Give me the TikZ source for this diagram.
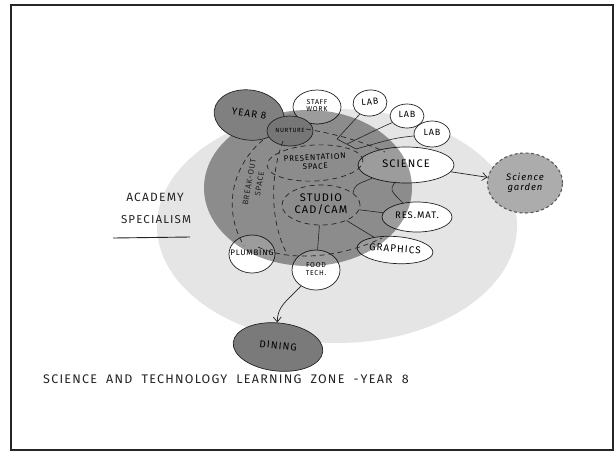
\documentclass[tikz,border=0pt]{standalone}
\usepackage{fontspec}
\setmainfont{Fira Sans}[LetterSpace=10]
\usetikzlibrary{shapes.geometric,arrows.meta}
\definecolor{zonelight}{RGB}{229,229,229}
\definecolor{yeargray}{RGB}{128,128,128}
\definecolor{nurtgray}{RGB}{118,118,118}
\definecolor{gardengray}{RGB}{172,172,172}
\definecolor{dininggray}{RGB}{122,122,122}
\definecolor{inkline}{RGB}{35,35,35}
\newcommand{\lbl}[1]{\makebox[0pt]{\renewcommand{\arraystretch}{0.95}\begin{tabular}{@{}c@{}}#1\end{tabular}}}
\tikzset{
  bub/.style={ellipse, draw=inkline, line width=0.7pt, inner sep=0pt, fill=white},
  darkbub/.style={ellipse, draw=inkline, line width=0.7pt, inner sep=0pt},
  zonebub/.style={ellipse, draw=inkline, line width=0.7pt, inner sep=0pt, dash pattern=on 5pt off 4pt},
  zonedash/.style={draw=inkline, line width=0.7pt, dash pattern=on 5pt off 4pt},
  link/.style={draw=inkline, line width=0.6pt},
  arr/.style={draw=inkline, line width=0.7pt, -{Straight Barb[length=5pt,width=8pt]}},
  plain/.style={inner sep=0pt, text=inkline}
}
\begin{document}
\begin{tikzpicture}[x=1pt,y=-1pt]
\useasboundingbox (0,0) rectangle (615,451);
% frame
\draw[line width=2pt, draw=black!85] (11,5) rectangle (612.5,450);
% light zone
\coordinate (lz) at (337,226);
\fill[zonelight] (lz) ellipse [x radius=180, y radius=117];
% outer bubbles (white inside)
\node[bub, minimum width=48, minimum height=34] (staff) at (317,107) {\fontsize{7}{7.5}\selectfont\lbl{STAFF\\WORK}};
\node[bub, minimum width=34, minimum height=26, rotate=5] (lab1) at (370,103) {\fontsize{9}{9}\selectfont\lbl{LAB}};
\node[bub, minimum width=34, minimum height=24] (lab2) at (407,116) {\fontsize{9}{9}\selectfont\lbl{LAB}};
\node[bub, minimum width=36, minimum height=26] (lab3) at (432,134) {\fontsize{9}{9}\selectfont\lbl{LAB}};
\node[bub, minimum width=96, minimum height=36] (sci) at (406,165) {\fontsize{11}{11}\selectfont\lbl{SCIENCE}};
\node[bub, minimum width=70, minimum height=30] (res) at (417,217) {\fontsize{9.5}{9.5}\selectfont\lbl{RES.MAT.}};
\node[bub, minimum width=76, minimum height=27, rotate=-4] (graph) at (395,250) {\fontsize{10}{10}\selectfont\lbl{GRAPHICS}};
\node[bub, minimum width=46, minimum height=38] (plumb) at (252,254) {\fontsize{8}{8}\selectfont\lbl{PLUMBING}};
\node[bub, minimum width=48, minimum height=40] (food) at (316,270) {\fontsize{7}{8.5}\selectfont\lbl{FOOD\\TECH.}};
% dark zone overlay
\coordinate (dz) at (308,188);
\fill[black, fill opacity=0.39] (dz) ellipse [x radius=104, y radius=78];
% year 8 and nurture
\node[darkbub, fill=yeargray, minimum width=70, minimum height=50, rotate=-8] (year) at (249,115) {\fontsize{10}{10}\selectfont\lbl{YEAR 8}};
\node[darkbub, fill=nurtgray, minimum width=46, minimum height=30] (nurt) at (290,131) {\fontsize{6}{6}\selectfont\lbl{NURTURE}};
% inner dashed zones
\node[zonebub, minimum width=96, minimum height=36, rotate=3] (pres) at (315,163) {\fontsize{8}{9.5}\selectfont\lbl{PRESENTATION\\SPACE}};
\node[zonebub, minimum width=78, minimum height=40] (studio) at (321,205) {\fontsize{11}{12.5}\selectfont\lbl{STUDIO\\CAD/CAM}};
\node[plain, rotate=80] (brk) at (255,183) {\fontsize{8}{11}\selectfont\lbl{BREAK-OUT\\SPACE}};
\draw[zonedash] (263,140) .. controls (236,162) and (220,205) .. (244,246);
\draw[zonedash] (283,141) .. controls (272,170) and (268,215) .. (286,252);
\draw[zonedash] (258,247) .. controls (290,262) and (340,258) .. (382,238);
\draw[zonedash] (306,129) .. controls (330,133) and (360,140) .. (385,152);
% links
\coordinate (p1) at (337,139);
\coordinate (p2) at (347,144);
\coordinate (p3) at (356,149);
\coordinate (p4) at (353,193);
\draw[link] (lab1) -- (p1);
\draw[link] (lab2) .. controls (380,128) .. (p2);
\draw[link] (lab3) .. controls (395,138) .. (p3);
\draw[link] (p1) -- (p3);
\draw[link] (sci) .. controls (355,185) .. (p4);
\draw[link] (sci) .. controls (390,190) .. (res);
\draw[link] (studio) -- (res);
\draw[link] (studio) -- (graph);
\draw[link] (studio) -- (food);
% science garden
\node[ellipse, fill=gardengray, draw=black!65, line width=1.1pt, dash pattern=on 3pt off 2.5pt, minimum width=75, minimum height=60, inner sep=0pt] (garden) at (525,183) {\fontsize{9.5}{10}\selectfont\itshape\lbl{Science\\garden}};
\draw[arr] (sci) -- (garden);
% dining
\node[darkbub, fill=dininggray, minimum width=90, minimum height=48, rotate=-6] (dining) at (278,347) {\fontsize{10}{10}\selectfont\lbl{DINING}};
\draw[arr] (food) .. controls (288,300) and (277,306) .. (dining);
% texts
\node[plain] (acad) at (155,197) {\fontsize{12}{12}\selectfont ACADEMY};
\node[plain] (spec) at (156,220) {\fontsize{11.5}{11.5}\selectfont SPECIALISM};
\coordinate (ul1) at (113,238);
\coordinate (ul2) at (190,237);
\draw[line width=0.9pt, draw=inkline] (ul1) -- (ul2);
\node[plain, anchor=west] (title) at (43,379) {\fontsize{12.5}{12.5}\selectfont SCIENCE\ \ AND\ \ TECHNOLOGY\ \ LEARNING\ \ ZONE\ \ -\,YEAR\ \ 8};
\end{tikzpicture}
\end{document}
